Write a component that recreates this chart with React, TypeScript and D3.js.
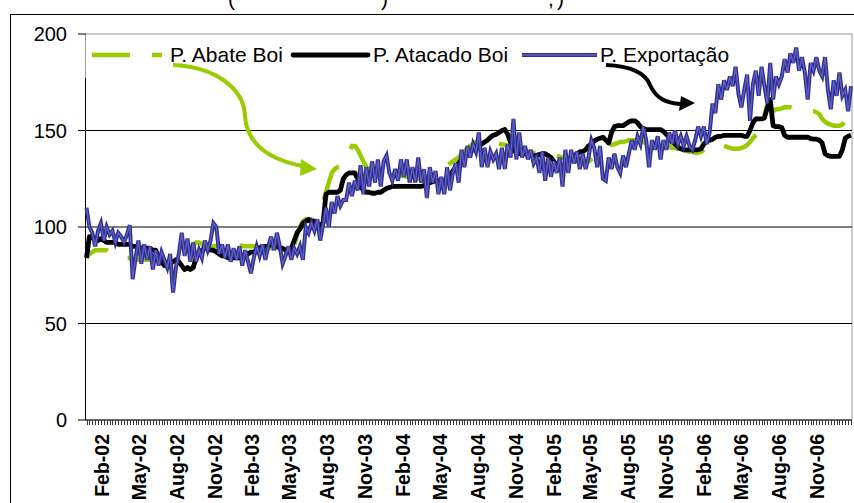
import React from "react";
import * as d3 from "d3";

// Weekly series, first week starting 25 Dec 2001
const startDate = new Date(2001, 11, 25);

const abateBoi = [
  84, 86, 87, 88, 88, 88, 88, 88, 87, 87, 86, 85, 85, 84, 84, 84, 83, 83, 83, 83, 83, 83, 83, 83, 84,
  84, 84, 85, 85, 86, 86, 87, 87, 88, 88, 89, 90, 91, 92, 92, 91, 91, 91, 90, 90,
  90, 90, 90, 91, 91, 91, 91, 91, 91, 90, 90, 90, 90, 90, 90, 89, 89, 89, 89, 89, 89, 89, 89, 89, 89,
  89, 88, 90, 96, 100, 103, 104, 103, 103, 104, 105, 108, 113, 118, 123, 128, 130, 131, 131, 134,
  137, 139, 142, 142, 140, 137, 134, 131, 130, 129.5, 129, 128, 128, 127, 127, 127, 127, 126.5, 126.5, 126.5,
  126.5, 126, 126, 126, 125, 125, 125, 125, 126, 127, 128, 128, 129, 130, 131, 132, 133, 134, 135, 136,
  138, 139, 141, 142, 143, 144,
  144.5, 145, 145, 145, 144, 144, 143.5, 143, 143, 142.5, 142, 142, 141.5, 141, 140.5, 140, 139.5, 139, 139, 138.5,
  138.5, 138, 138, 138, 138, 137.5, 137, 137, 136.5, 136, 135.5, 135, 134.5, 134, 134, 133.5, 133, 133, 134, 135,
  136, 137, 138.5, 140,
  141, 142, 142.5, 143, 143.5, 144, 144, 144.5, 145, 145, 145, 145, 144.5, 144, 143.5, 143, 143, 143, 143, 143,
  142.5, 142, 141.5, 141, 141, 140.5, 140.5, 140, 139.5, 139, 139, 138.5, 138.5, 139, 140, 141, 142, 143, 143, 143,
  142.5, 142, 141.5, 141, 140.5, 140.5, 140.5, 141, 141.5, 142.5, 144, 146, 147.5, 148.5, 152, 158, 163, 162, 160, 161,
  161, 161.5, 162, 162, 162, 161.5, 161, 160.5, 160, 160, 160, 160, 160, 159.5, 158.5, 156, 154.5, 153.5, 153, 152.5,
  152.5, 152.5, 153, 155, 157, 158,
];

const atacadoBoi = [
  84, 95, 95, 94, 93, 94, 93, 92, 92, 92, 92, 91, 91, 91, 91, 91, 90, 90, 90, 89, 89, 89, 89, 88, 88,
  84, 82, 80, 80, 81, 82, 83, 82, 80, 78, 79, 78, 79, 84, 87, 88, 89, 89, 88, 88,
  87, 86, 85, 85, 84, 84, 84, 84, 84, 85, 86, 86, 87, 87, 88, 89, 90, 90, 90, 91, 91, 90, 89, 89, 88,
  88, 89, 93, 97, 99, 102, 103, 104, 103, 103, 102, 101, 102, 117, 118, 118, 118, 118, 119, 125,
  127, 128, 128, 128, 125, 121, 119, 118, 118, 117.5, 117.5, 118, 118, 119, 120, 120.5, 121, 121, 121, 121,
  121, 121, 121, 121, 121, 121, 121, 121.5, 122, 123, 123.5, 124, 124, 124, 124, 124, 127, 129, 131, 133,
  135, 136.5, 137.5, 139, 140, 141,
  142, 143, 144, 145, 146.5, 147.5, 148, 149, 150, 150.5, 148, 144, 140, 138.5, 138, 138, 138, 137.5, 137, 137,
  137, 137.5, 138, 138, 137, 136, 134, 132, 131, 131, 132, 134, 136, 137, 138, 139, 139, 140, 142, 143,
  144.5, 145.5, 146, 146.5,
  145, 143.5, 149, 152, 152.5, 152.5, 152.5, 153.5, 154.5, 155, 155, 154, 152, 151, 150.5, 150.5, 150.5, 150.5, 150.5, 150.5,
  149.5, 148, 146.5, 144.5, 143, 141.5, 140.5, 140, 140, 140, 140, 140, 140, 140.5, 143, 144.5, 145, 145.5, 146.5, 147,
  147, 147.5, 147.5, 147.5, 147.5, 147.5, 147.5, 147.5, 147, 147, 150, 154, 156, 156, 156, 156.5, 162, 166, 152.5, 152,
  152, 151.5, 147.5, 146.5, 146.5, 146.5, 146.5, 146.5, 146.5, 146.5, 146.5, 145.8, 145.5, 145.5, 145, 143.5, 138, 137, 136.6, 136.6,
  136.6, 136.6, 140, 146, 147, 147.5,
];

const exportacao = [
  110, 100, 97, 90, 98, 102, 93, 100, 96, 98, 92, 97, 95, 92, 96, 101, 73, 84, 93, 81, 91, 83, 90, 78, 88,
  80, 87, 83, 79, 86, 66, 79, 86, 97, 85, 94, 82, 92, 82, 88, 84, 93, 88, 93, 102,
  100, 86, 91, 84, 91, 82, 89, 83, 90, 80, 88, 82, 76, 84, 90, 85, 91, 83, 90, 95, 88, 97, 90, 81, 85,
  90, 83, 89, 86, 90, 83, 100, 97, 102, 98, 104, 93, 101, 110, 100, 113, 107, 116, 111, 114,
  114, 123, 116, 124, 119, 132, 117, 131, 121, 134, 123, 135, 121, 134, 137, 128, 124, 130, 124, 135,
  126, 135, 123, 131, 123, 136, 123, 130, 115, 131, 123, 129, 117, 126, 117, 131, 119, 128, 133, 123,
  140, 131, 142, 136, 143, 139,
  149, 131, 141, 131, 139, 135, 138, 130, 141, 130, 143, 136, 156, 135, 149, 136, 142, 135, 140, 133,
  136, 128, 139, 124, 136, 126, 134, 128, 136, 121, 140, 128, 140, 133, 139, 130, 138, 130, 136, 145,
  141, 131, 142, 125,
  124, 136, 130, 138, 131, 128, 137, 131, 138, 145, 140, 147, 143, 152, 145, 131, 145, 140, 147, 135,
  145, 140, 149, 143, 150, 143, 147, 142, 147, 142, 140, 145, 152, 147, 152, 143, 149, 164, 159, 174,
  166, 176, 171, 178, 173, 183,
  169, 162, 171, 179, 155, 174, 181, 168, 183, 173, 164, 185, 166, 178, 174, 178, 187, 180, 190, 185,
  193, 181, 188, 180, 166, 185, 181, 188, 181, 178, 188, 171, 161, 176, 168, 180, 168, 171, 160, 173,
];

const yTicks = [0, 50, 100, 150, 200];
const seriesNames = ["P. Abate Boi", "P. Atacado Boi", "P. Exportação"];
const titleFragments = ["(", ")", ",", ")"];

const GREEN = "#99cc00";
const BLUE_DARK = "#30308f";
const BLUE_LIGHT = "#6060c4";
const FONT = "'Liberation Sans', Arial, sans-serif";

export default function App() {
  const W = 854;
  const H = 503;
  const left = 86;
  const right = 852;
  const top = 34;
  const bottom = 420;

  const n = exportacao.length;
  const dates = d3.range(n).map((i) => d3.timeDay.offset(startDate, 7 * i));
  const x = d3.scaleTime().domain([dates[0], dates[n - 1]]).range([86.5, 851]);
  const y = d3.scaleLinear().domain([0, 200]).range([bottom, top]);

  const line = d3
    .line<number>()
    .x((_, i) => x(dates[i]))
    .y((d) => y(d));

  const tickDates = d3.timeMonth.range(new Date(2002, 1, 1), new Date(2006, 10, 2), 3);
  const fmt = d3.timeFormat("%b-%y");

  // dash phase for the green series (pattern 38 on / 22 off)
  let len = 0;
  const phaseIdx = 221;
  for (let i = 1; i <= phaseIdx; i++) {
    const dx = x(dates[i]) - x(dates[i - 1]);
    const dy = y(abateBoi[i]) - y(abateBoi[i - 1]);
    len += Math.hypot(dx, dy);
  }
  const dashOffset = (60 - (len % 60)) % 60;

  const titleX = [228, 381, 548, 557];

  return (
    <div style={{ position: "absolute", left: 0, top: 0 }}>
      <svg width={W} height={H} style={{ display: "block", background: "#fff" }}>
        {/* title, clipped by the top of the picture */}
        {titleFragments.map((t, i) => (
          <text key={i} x={titleX[i]} y={6} fontFamily={FONT} fontSize={21} fill="#000">
            {t}
          </text>
        ))}
        {/* chart frame */}
        <rect x={10.5} y={14.5} width={900} height={600} fill="#fff" stroke="#000" strokeWidth={1} />

        {/* plot border */}
        <rect x={left - 0.5} y={top} width={right - left + 0.5} height={bottom - top} fill="none" stroke="#9a9a9a" strokeWidth={1} />

        {/* gridlines */}
        {yTicks.filter((t) => t > 0 && t < 200).map((t) => (
          <line key={t} x1={left} x2={right} y1={y(t)} y2={y(t)} stroke="#000" strokeWidth={1} />
        ))}

        {/* y axis */}
        <line x1={85.5} x2={85.5} y1={78} y2={bottom} stroke="#000" strokeWidth={1} />
        {yTicks.map((t) => (
          <g key={t}>
            <line x1={78} x2={86} y1={y(t)} y2={y(t)} stroke="#000" strokeWidth={1} />
            <text x={67} y={y(t)} dy="0.35em" textAnchor="end" fontFamily={FONT} fontSize={20} fill="#000">
              {t}
            </text>
          </g>
        ))}

        {/* x axis */}
        <line x1={left} x2={right} y1={bottom} y2={bottom} stroke="#000" strokeWidth={1} />
        {dates.map((d, i) => (
          <line key={i} x1={Math.round(x(d)) + 0.5} x2={Math.round(x(d)) + 0.5} y1={bottom} y2={bottom + 5} stroke="#333" strokeWidth={1} />
        ))}
        {tickDates.map((d, i) => (
          <text
            key={i}
            transform={`translate(${x(d)},434) rotate(-90)`}
            dy="0.35em"
            textAnchor="end"
            fontFamily={FONT}
            fontWeight="bold"
            fontSize={19.5}
            fill="#000"
          >
            {fmt(d)}
          </text>
        ))}

        {/* series */}
        <path d={line(abateBoi) || ""} fill="none" stroke={GREEN} strokeWidth={4.5} strokeDasharray="38 22" strokeDashoffset={dashOffset} />
        <path d={line(atacadoBoi) || ""} fill="none" stroke="#000" strokeWidth={4.8} strokeLinejoin="round" />
        <path d={line(exportacao) || ""} fill="none" stroke={BLUE_DARK} strokeWidth={4} strokeLinejoin="miter" />
        <path d={line(exportacao) || ""} fill="none" stroke={BLUE_LIGHT} strokeWidth={1.3} />

        {/* legend */}
        <line x1={92} x2={162} y1={55} y2={55} stroke={GREEN} strokeWidth={4.5} strokeDasharray="38 22" />
        <text x={170} y={62} fontFamily={FONT} fontSize={21} fill="#000">{seriesNames[0]}</text>
        <line x1={293} x2={368} y1={55} y2={55} stroke="#000" strokeWidth={4.8} strokeLinecap="round" />
        <text x={373} y={62} fontFamily={FONT} fontSize={21} fill="#000">{seriesNames[1]}</text>
        <line x1={522} x2={597} y1={55} y2={55} stroke={BLUE_DARK} strokeWidth={4} />
        <line x1={522} x2={597} y1={55} y2={55} stroke={BLUE_LIGHT} strokeWidth={1.3} />
        <text x={600} y={62} fontFamily={FONT} fontSize={21} fill="#000">{seriesNames[2]}</text>

        {/* annotation arrows */}
        <path d="M173,65 C215,67 244,88 245,116 C247,146 272,160 302,166" fill="none" stroke={GREEN} strokeWidth={4} />
        <path d="M301,159 L300,176 L317,169 Z" fill={GREEN} />
        <path d="M606,65 C630,66 645,72 650,85 C656,98 665,103 681,104" fill="none" stroke="#000" strokeWidth={4} />
        <path d="M681,96 L679,111 L695,103 Z" fill="#000" />
      </svg>
    </div>
  );
}
